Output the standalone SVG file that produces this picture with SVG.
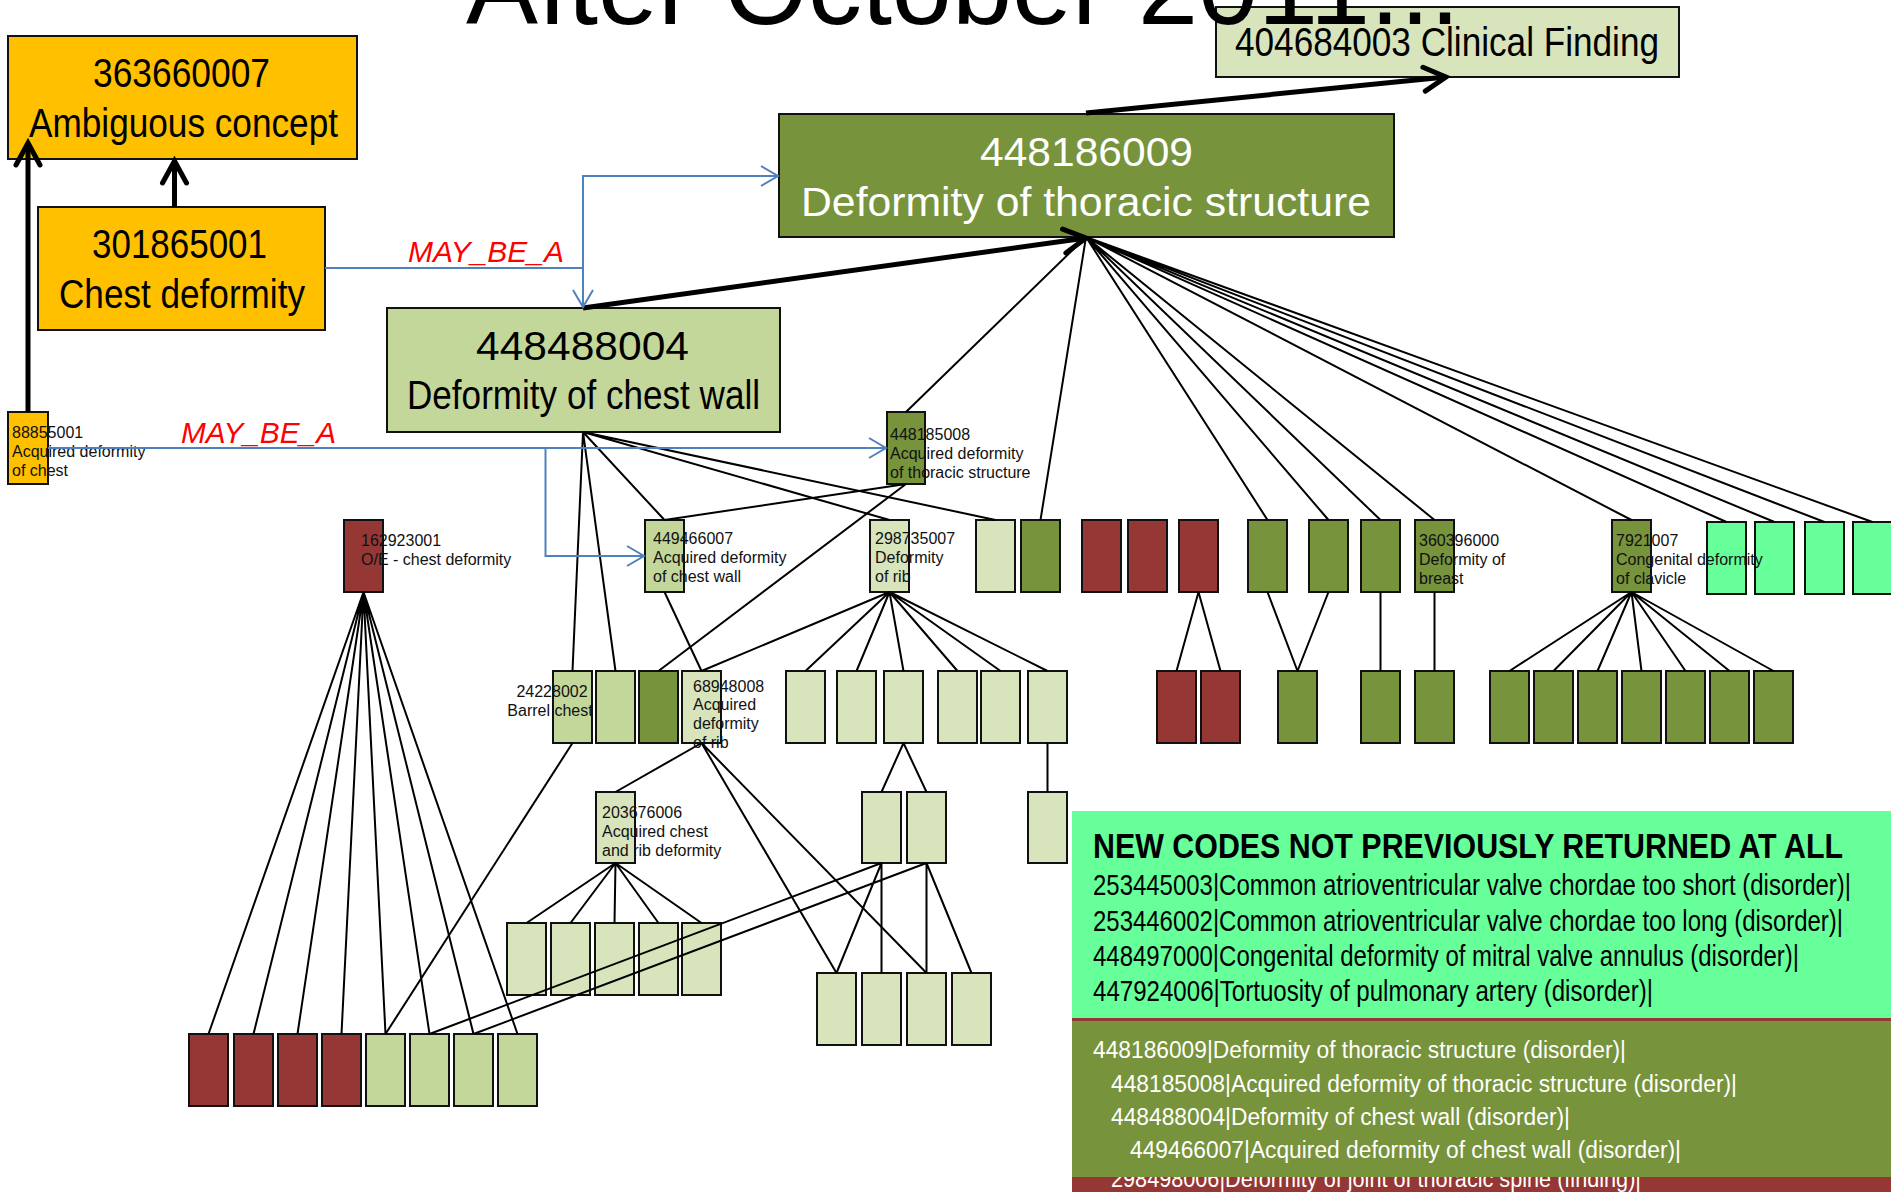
<svg xmlns="http://www.w3.org/2000/svg" width="1891" height="1192" viewBox="0 0 1891 1192">
  <style>
    .bx { stroke: #111; stroke-width: 2; }
    .y  { fill: #FFC000; }
    .g1 { fill: #C4D79B; }
    .g2 { fill: #D8E4BC; }
    .g3 { fill: #77933C; }
    .r  { fill: #953735; }
    .lg { fill: #66FF99; }
    .big { font-family: "Liberation Sans", Arial, sans-serif; font-size: 41px; fill: #000; }
    .lbl { font-family: "Liberation Sans", Arial, sans-serif; font-size: 16px; fill: #111; }
    .rel { font-family: "Liberation Sans", Arial, sans-serif; font-size: 29px; font-style: italic; fill: #FF0000; }
    .edge { fill: none; stroke: #000; stroke-width: 2; }
    .isa { fill: none; stroke: #000; stroke-width: 5; }
    .may { fill: none; stroke: #4F81BD; stroke-width: 2; }
    .list { font-family: "Liberation Sans Narrow", "Liberation Sans", Arial, sans-serif; font-size: 29px; fill: #000; }
    .olist { font-family: "Liberation Sans", Arial, sans-serif; font-size: 23px; fill: #fff; }
  </style>
  <defs>
    <marker id="head" markerUnits="userSpaceOnUse" viewBox="-30 -20 40 40" markerWidth="40" markerHeight="40" refX="0" refY="0" orient="auto" overflow="visible">
      <path d="M-22,-12 L0,0 L-22,12" fill="none" stroke="#000" stroke-width="5" stroke-linecap="round"/>
    </marker>
    <marker id="headBlue" markerUnits="userSpaceOnUse" viewBox="-30 -20 40 40" markerWidth="40" markerHeight="40" refX="0" refY="0" orient="auto" overflow="visible">
      <path d="M-17,-10 L0,0 L-17,10" fill="none" stroke="#4F81BD" stroke-width="2"/>
    </marker>
  </defs>

  <rect width="1891" height="1192" fill="#fff"/>

  <!-- top concepts -->
  <g id="n363660007">
    <rect class="bx y" x="8" y="36" width="349" height="123"/>
    <text class="big" x="93" y="87" textLength="177" lengthAdjust="spacingAndGlyphs">363660007</text>
    <text class="big" x="29" y="137" textLength="309" lengthAdjust="spacingAndGlyphs">Ambiguous concept</text>
  </g>
  <g id="n301865001">
    <rect class="bx y" x="38" y="207" width="287" height="123"/>
    <text class="big" x="92" y="258" textLength="175" lengthAdjust="spacingAndGlyphs">301865001</text>
    <text class="big" x="59" y="308" textLength="246" lengthAdjust="spacingAndGlyphs">Chest deformity</text>
  </g>
  <g id="n448488004">
    <rect class="bx g1" x="387" y="308" width="393" height="124"/>
    <text class="big" x="476" y="360" textLength="213" lengthAdjust="spacingAndGlyphs">448488004</text>
    <text class="big" x="407" y="409" textLength="353" lengthAdjust="spacingAndGlyphs">Deformity of chest wall</text>
  </g>
  <g id="n448186009">
    <rect class="bx g3" x="779" y="114" width="615" height="123"/>
    <text class="big" x="980" y="166" style="fill:#fff" textLength="213" lengthAdjust="spacingAndGlyphs">448186009</text>
    <text class="big" x="801" y="216" style="fill:#fff" textLength="570" lengthAdjust="spacingAndGlyphs">Deformity of thoracic structure</text>
  </g>
  <g id="n404684003">
    <rect class="bx g2" x="1216" y="7" width="463" height="70"/>
    <text class="big" x="1235" y="56" textLength="424" lengthAdjust="spacingAndGlyphs">404684003 Clinical Finding</text>
  </g>

  <!-- unlabelled concepts, first level -->
  <g id="n_a1"><rect class="bx g2" x="976" y="520" width="39" height="72"/></g>
  <g id="n_a2"><rect class="bx g3" x="1021" y="520" width="39" height="72"/></g>
  <g id="n_a3"><rect class="bx r" x="1082" y="520" width="39" height="72"/></g>
  <g id="n_a4"><rect class="bx r" x="1128" y="520" width="39" height="72"/></g>
  <g id="n_a5"><rect class="bx r" x="1179" y="520" width="39" height="72"/></g>
  <g id="n_a6"><rect class="bx g3" x="1248" y="520" width="39" height="72"/></g>
  <g id="n_a7"><rect class="bx g3" x="1309" y="520" width="39" height="72"/></g>
  <g id="n_a8"><rect class="bx g3" x="1361" y="520" width="39" height="72"/></g>
  <g id="n_a9"><rect class="bx lg" x="1707" y="522" width="39" height="72"/></g>
  <g id="n_a10"><rect class="bx lg" x="1755" y="522" width="39" height="72"/></g>
  <g id="n_a11"><rect class="bx lg" x="1805" y="522" width="39" height="72"/></g>
  <g id="n_a12"><rect class="bx lg" x="1853" y="522" width="40" height="72"/></g>

  <!-- second level -->
  <g id="n_b1"><rect class="bx g1" x="596" y="671" width="39" height="72"/></g>
  <g id="n_b2"><rect class="bx g3" x="639" y="671" width="39" height="72"/></g>
  <g id="n_b3"><rect class="bx g2" x="786" y="671" width="39" height="72"/></g>
  <g id="n_b4"><rect class="bx g2" x="837" y="671" width="39" height="72"/></g>
  <g id="n_b5"><rect class="bx g2" x="884" y="671" width="39" height="72"/></g>
  <g id="n_b6"><rect class="bx g2" x="938" y="671" width="39" height="72"/></g>
  <g id="n_b7"><rect class="bx g2" x="981" y="671" width="39" height="72"/></g>
  <g id="n_b8"><rect class="bx g2" x="1028" y="671" width="39" height="72"/></g>
  <g id="n_b9"><rect class="bx r" x="1157" y="671" width="39" height="72"/></g>
  <g id="n_b10"><rect class="bx r" x="1201" y="671" width="39" height="72"/></g>
  <g id="n_b11"><rect class="bx g3" x="1278" y="671" width="39" height="72"/></g>
  <g id="n_b12"><rect class="bx g3" x="1361" y="671" width="39" height="72"/></g>
  <g id="n_b13"><rect class="bx g3" x="1415" y="671" width="39" height="72"/></g>
  <g id="n_b14"><rect class="bx g3" x="1490" y="671" width="39" height="72"/></g>
  <g id="n_b15"><rect class="bx g3" x="1534" y="671" width="39" height="72"/></g>
  <g id="n_b16"><rect class="bx g3" x="1578" y="671" width="39" height="72"/></g>
  <g id="n_b17"><rect class="bx g3" x="1622" y="671" width="39" height="72"/></g>
  <g id="n_b18"><rect class="bx g3" x="1666" y="671" width="39" height="72"/></g>
  <g id="n_b19"><rect class="bx g3" x="1710" y="671" width="39" height="72"/></g>
  <g id="n_b20"><rect class="bx g3" x="1754" y="671" width="39" height="72"/></g>

  <!-- third level -->
  <g id="n_c1"><rect class="bx g2" x="862" y="792" width="39" height="71"/></g>
  <g id="n_c2"><rect class="bx g2" x="907" y="792" width="39" height="71"/></g>
  <g id="n_c3"><rect class="bx g2" x="1028" y="792" width="39" height="71"/></g>

  <!-- fourth level -->
  <g id="n_d1"><rect class="bx g2" x="507" y="923" width="39" height="72"/></g>
  <g id="n_d2"><rect class="bx g2" x="551" y="923" width="39" height="72"/></g>
  <g id="n_d3"><rect class="bx g2" x="595" y="923" width="39" height="72"/></g>
  <g id="n_d4"><rect class="bx g2" x="639" y="923" width="39" height="72"/></g>
  <g id="n_d5"><rect class="bx g2" x="682" y="923" width="39" height="72"/></g>
  <g id="n_e1"><rect class="bx g2" x="817" y="973" width="39" height="72"/></g>
  <g id="n_e2"><rect class="bx g2" x="862" y="973" width="39" height="72"/></g>
  <g id="n_e3"><rect class="bx g2" x="907" y="973" width="39" height="72"/></g>
  <g id="n_e4"><rect class="bx g2" x="952" y="973" width="39" height="72"/></g>

  <!-- bottom row -->
  <g id="n_f1"><rect class="bx r" x="189" y="1034" width="39" height="72"/></g>
  <g id="n_f2"><rect class="bx r" x="234" y="1034" width="39" height="72"/></g>
  <g id="n_f3"><rect class="bx r" x="278" y="1034" width="39" height="72"/></g>
  <g id="n_f4"><rect class="bx r" x="322" y="1034" width="39" height="72"/></g>
  <g id="n_f5"><rect class="bx g1" x="366" y="1034" width="39" height="72"/></g>
  <g id="n_f6"><rect class="bx g1" x="410" y="1034" width="39" height="72"/></g>
  <g id="n_f7"><rect class="bx g1" x="454" y="1034" width="39" height="72"/></g>
  <g id="n_f8"><rect class="bx g1" x="498" y="1034" width="39" height="72"/></g>

  <!-- labelled small concepts (labels run over neighbouring boxes) -->
  <g id="n88855001">
    <rect class="bx y" x="8" y="412" width="40" height="72"/>
    <text class="lbl" x="12" y="438">88855001</text>
    <text class="lbl" x="12" y="457">Acquired deformity</text>
    <text class="lbl" x="12" y="476">of chest</text>
  </g>
  <g id="n448185008">
    <rect class="bx g3" x="887" y="412" width="38" height="72"/>
    <text class="lbl" x="890" y="440">448185008</text>
    <text class="lbl" x="890" y="459">Acquired deformity</text>
    <text class="lbl" x="890" y="478">of thoracic structure</text>
  </g>
  <g id="n162923001">
    <rect class="bx r" x="344" y="520" width="39" height="72"/>
    <text class="lbl" x="361" y="546">162923001</text>
    <text class="lbl" x="361" y="565">O/E - chest deformity</text>
  </g>
  <g id="n449466007">
    <rect class="bx g1" x="645" y="520" width="39" height="72"/>
    <text class="lbl" x="653" y="544">449466007</text>
    <text class="lbl" x="653" y="563">Acquired deformity</text>
    <text class="lbl" x="653" y="582">of chest wall</text>
  </g>
  <g id="n298735007">
    <rect class="bx g2" x="870" y="520" width="39" height="72"/>
    <text class="lbl" x="875" y="544">298735007</text>
    <text class="lbl" x="875" y="563">Deformity</text>
    <text class="lbl" x="875" y="582">of rib</text>
  </g>
  <g id="n360396000">
    <rect class="bx g3" x="1415" y="520" width="39" height="72"/>
    <text class="lbl" x="1419" y="546">360396000</text>
    <text class="lbl" x="1419" y="565">Deformity of</text>
    <text class="lbl" x="1419" y="584">breast</text>
  </g>
  <g id="n7921007">
    <rect class="bx g3" x="1612" y="520" width="39" height="72"/>
    <text class="lbl" x="1616" y="546">7921007</text>
    <text class="lbl" x="1616" y="565">Congenital deformity</text>
    <text class="lbl" x="1616" y="584">of clavicle</text>
  </g>
  <g id="n24228002">
    <rect class="bx g1" x="553" y="671" width="39" height="72"/>
    <text class="lbl" x="552" y="697" text-anchor="middle">24228002</text>
    <text class="lbl" x="550" y="716" text-anchor="middle">Barrel chest</text>
  </g>
  <g id="n68948008">
    <rect class="bx g2" x="682" y="671" width="39" height="72"/>
    <text class="lbl" x="693" y="692">68948008</text>
    <text class="lbl" x="693" y="710">Acquired</text>
    <text class="lbl" x="693" y="729">deformity</text>
    <text class="lbl" x="693" y="748">of rib</text>
  </g>
  <g id="n203676006">
    <rect class="bx g2" x="596" y="792" width="39" height="71"/>
    <text class="lbl" x="602" y="818">203676006</text>
    <text class="lbl" x="602" y="837">Acquired chest</text>
    <text class="lbl" x="602" y="856">and rib deformity</text>
  </g>

  <!-- connectors -->
  <g id="connectors">
    <!-- children of 448186009 -->
    <path class="edge" d="M1086,237 L906,412 M1086,237 L1040.5,520 M1086,237 L1267.5,520 M1086,237 L1328.5,520 M1086,237 L1380.5,520 M1086,237 L1434.5,520 M1086,237 L1631.5,520 M1086,237 L1726.5,522 M1086,237 L1774.5,522 M1086,237 L1824.5,522 M1086,237 L1872.5,522"/>
    <!-- children of 448488004 -->
    <path class="edge" d="M583,432 L572.5,671 M583,432 L615.5,671 M583,432 L664.5,520 M583,432 L889.5,520 M583,432 L995.5,520"/>
    <!-- children of 448185008 -->
    <path class="edge" d="M906,484 L664.5,520 M906,484 L658.5,671"/>
    <path class="edge" d="M664.5,592 L701.5,671"/>
    <!-- children of 298735007 -->
    <path class="edge" d="M889.5,592 L701.5,671 M889.5,592 L805.5,671 M889.5,592 L856.5,671 M889.5,592 L903.5,671 M889.5,592 L957.5,671 M889.5,592 L1000.5,671 M889.5,592 L1047.5,671"/>
    <path class="edge" d="M903.5,743 L881.5,792 M903.5,743 L926.5,792 M1047.5,743 L1047.5,792"/>
    <!-- children of 68948008 -->
    <path class="edge" d="M701.5,743 L615.5,792 M701.5,743 L836.5,973 M701.5,743 L926.5,973"/>
    <path class="edge" d="M572.5,743 L385.5,1034"/>
    <!-- children of 162923001 -->
    <path class="edge" d="M363.5,592 L208.5,1034 M363.5,592 L253.5,1034 M363.5,592 L297.5,1034 M363.5,592 L341.5,1034 M363.5,592 L385.5,1034 M363.5,592 L429.5,1034 M363.5,592 L473.5,1034 M363.5,592 L517.5,1034"/>
    <!-- children of 203676006 -->
    <path class="edge" d="M615.5,863 L526.5,923 M615.5,863 L570.5,923 M615.5,863 L614.5,923 M615.5,863 L658.5,923 M615.5,863 L701.5,923"/>
    <path class="edge" d="M881.5,863 L836.5,973 M881.5,863 L881.5,973 M881.5,863 L429.5,1034 M926.5,863 L926.5,973 M926.5,863 L971.5,973 M926.5,863 L473.5,1034"/>
    <!-- right-hand groups -->
    <path class="edge" d="M1198.5,592 L1176.5,671 M1198.5,592 L1220.5,671 M1267.5,592 L1297.5,671 M1328.5,592 L1297.5,671 M1380.5,592 L1380.5,671 M1434.5,592 L1434.5,671"/>
    <path class="edge" d="M1631.5,592 L1509.5,671 M1631.5,592 L1553.5,671 M1631.5,592 L1597.5,671 M1631.5,592 L1641.5,671 M1631.5,592 L1685.5,671 M1631.5,592 L1729.5,671 M1631.5,592 L1773.5,671"/>

    <!-- is-a arrows -->
    <line class="isa" x1="174.5" y1="207" x2="174.5" y2="161" marker-end="url(#head)"/>
    <line class="isa" x1="28" y1="412" x2="28" y2="143" marker-end="url(#head)"/>
    <line class="isa" x1="583" y1="308" x2="1086" y2="238" marker-end="url(#head)"/>
    <line class="isa" x1="1086" y1="113" x2="1446" y2="77" marker-end="url(#head)"/>

    <!-- MAY_BE_A links -->
    <path class="may" d="M325,268 H583 V307" marker-end="url(#headBlue)"/>
    <path class="may" d="M583,268 V176 H778" marker-end="url(#headBlue)"/>
    <path class="may" d="M48,448 H886" marker-end="url(#headBlue)"/>
    <path class="may" d="M545.5,448 V556 H644" marker-end="url(#headBlue)"/>
    <text class="rel" x="408" y="262" textLength="156" lengthAdjust="spacingAndGlyphs">MAY_BE_A</text>
    <text class="rel" x="181" y="443" textLength="155" lengthAdjust="spacingAndGlyphs">MAY_BE_A</text>
  </g>

  <!-- code list panel -->
  <g id="codeList">
    <rect x="1072" y="1016" width="819" height="176" fill="#953735"/>
    <text class="olist" x="1111" y="1187" textLength="530" lengthAdjust="spacingAndGlyphs">298498006|Deformity of joint of thoracic spine (finding)|</text>
    <rect x="1072" y="811" width="819" height="207" fill="#66FF99"/>
    <text class="list" x="1093" y="858" font-weight="bold" style="font-size:35px" textLength="750" lengthAdjust="spacingAndGlyphs">NEW CODES NOT PREVIOUSLY RETURNED AT ALL</text>
    <text class="list" x="1093" y="895" textLength="758" lengthAdjust="spacingAndGlyphs">253445003|Common atrioventricular valve chordae too short (disorder)|</text>
    <text class="list" x="1093" y="931" textLength="750" lengthAdjust="spacingAndGlyphs">253446002|Common atrioventricular valve chordae too long (disorder)|</text>
    <text class="list" x="1093" y="966" textLength="706" lengthAdjust="spacingAndGlyphs">448497000|Congenital deformity of mitral valve annulus (disorder)|</text>
    <text class="list" x="1093" y="1001" textLength="560" lengthAdjust="spacingAndGlyphs">447924006|Tortuosity of pulmonary artery (disorder)|</text>
    <rect x="1072" y="1021" width="819" height="156" fill="#77933C"/>
    <text class="olist" x="1093" y="1058" textLength="533" lengthAdjust="spacingAndGlyphs">448186009|Deformity of thoracic structure (disorder)|</text>
    <text class="olist" x="1111" y="1092" textLength="626" lengthAdjust="spacingAndGlyphs">448185008|Acquired deformity of thoracic structure (disorder)|</text>
    <text class="olist" x="1111" y="1125" textLength="459" lengthAdjust="spacingAndGlyphs">448488004|Deformity of chest wall (disorder)|</text>
    <text class="olist" x="1130" y="1158" textLength="551" lengthAdjust="spacingAndGlyphs">449466007|Acquired deformity of chest wall (disorder)|</text>
  </g>

  <!-- heading -->
  <text x="466" y="24" font-family="Liberation Sans, Arial, sans-serif" font-size="107" fill="#000" textLength="994" lengthAdjust="spacingAndGlyphs">After October 2011...</text>
</svg>
